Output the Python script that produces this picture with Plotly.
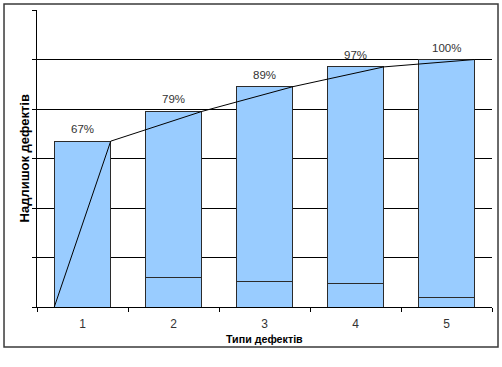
import plotly.graph_objects as go

categories = ["1", "2", "3", "4", "5"]
cumulative = [67, 79, 89, 97, 100]
individual = [67, 12, 10.5, 9.5, 4]
labels = ["67%", "79%", "89%", "97%", "100%"]
y_ticks = [0, 20, 40, 60, 80, 100, 120]
grid_vals = [20, 40, 60, 80, 100]

bar_w = 0.62
fill = "#99CCFF"
edge = "#2b2b2b"
font_family = "Liberation Sans, Arial, sans-serif"

upper = [c - i for c, i in zip(cumulative, individual)]

fig = go.Figure()
fig.add_trace(go.Bar(x=categories, y=individual, width=bar_w,
                     marker=dict(color=fill, line=dict(color=edge, width=1)),
                     showlegend=False, hoverinfo="skip"))
fig.add_trace(go.Bar(x=categories, y=upper, width=bar_w,
                     marker=dict(color=fill, line=dict(color=edge, width=1)),
                     showlegend=False, hoverinfo="skip"))

# cumulative line through the right-top corners of the bars (numeric overlay axis)
idx = list(range(len(categories)))
line_x = [idx[0] - bar_w / 2] + [i + bar_w / 2 for i in idx]
line_y = [0] + cumulative
fig.add_trace(go.Scatter(x=line_x, y=line_y, mode="lines", xaxis="x2",
                         line=dict(color="#000000", width=1),
                         showlegend=False, hoverinfo="skip"))

# tick-only axis
fig.add_trace(go.Scatter(x=[None], y=[None], yaxis="y2", showlegend=False))

annotations = [
    dict(text=t, x=i, y=c, xref="x2", yref="y", yanchor="bottom", yshift=4,
         showarrow=False, font=dict(family=font_family, size=11.5, color="#333333"))
    for i, c, t in zip(idx, cumulative, labels)
]
annotations += [
    dict(text="<b>Типи дефектів</b>", xref="paper", yref="paper",
         x=0.5, y=-0.108, yanchor="middle", showarrow=False,
         font=dict(family=font_family, size=10.7, color="#000")),
    dict(text="<b>Надлишок дефектів</b>", xref="paper", yref="paper",
         x=-0.0264, y=0.5, xanchor="center", yanchor="middle", textangle=-90,
         showarrow=False, font=dict(family=font_family, size=13, color="#000")),
]

fig.update_layout(
    width=502, height=367,
    margin=dict(l=37, r=10, t=10, b=60, autoexpand=False),
    paper_bgcolor="white", plot_bgcolor="white",
    barmode="stack", bargap=0.38,
    xaxis=dict(type="category", tickson="boundaries", ticks="outside", ticklen=4,
               tickcolor="#000", showline=True, linecolor="#000", linewidth=1,
               showgrid=False, range=[-0.5, 4.5], automargin=False,
               ticklabelstandoff=6,
               tickfont=dict(family=font_family, size=12, color="#333333")),
    xaxis2=dict(overlaying="x", range=[-0.5, 4.5], visible=False, automargin=False),
    yaxis=dict(range=[0, 120], tickvals=grid_vals, showticklabels=False, ticks="",
               showgrid=True, gridcolor="#000", gridwidth=1, zeroline=False,
               showline=True, linecolor="#000", linewidth=1, automargin=False),
    yaxis2=dict(overlaying="y", range=[0, 120], tickvals=y_ticks, ticks="outside",
                ticklen=4, tickcolor="#000", showticklabels=False, showgrid=False,
                zeroline=False, showline=False, side="left", automargin=False),
    annotations=annotations,
    shapes=[
        dict(type="rect", xref="paper", yref="paper",
             x0=-0.0725, x1=1.0132, y0=-0.1347, y1=1.0202,
             line=dict(color="#3a3a3a", width=1.5), fillcolor="rgba(0,0,0,0)"),
    ],
)

fig.write_html("out.html", config={"displayModeBar": False},
               post_script="document.body.style.margin='0';")
